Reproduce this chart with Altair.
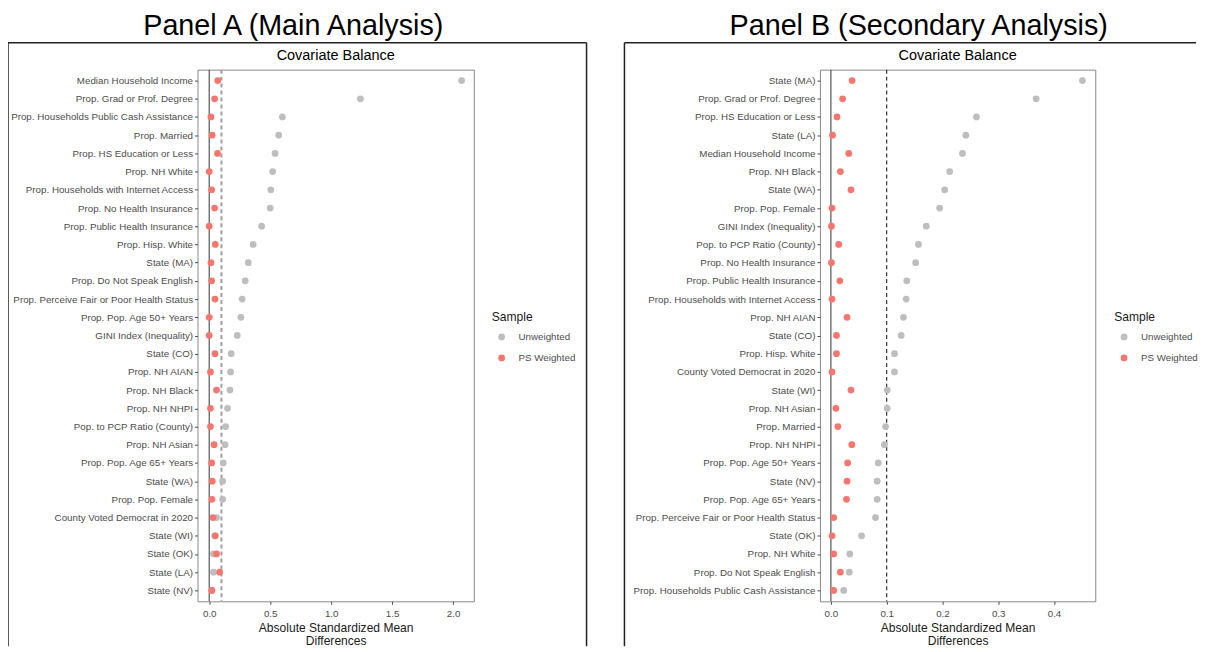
import altair as alt
import pandas as pd

FONT = "Liberation Sans"

# ---------------- Panel A data ----------------
vars_a = ["Median Household Income", "Prop. Grad or Prof. Degree",
          "Prop. Households Public Cash Assistance", "Prop. Married",
          "Prop. HS Education or Less", "Prop. NH White",
          "Prop. Households with Internet Access", "Prop. No Health Insurance",
          "Prop. Public Health Insurance", "Prop. Hisp. White", "State (MA)",
          "Prop. Do Not Speak English", "Prop. Perceive Fair or Poor Health Status",
          "Prop. Pop. Age 50+ Years", "GINI Index (Inequality)", "State (CO)",
          "Prop. NH AIAN", "Prop. NH Black", "Prop. NH NHPI",
          "Pop. to PCP Ratio (County)", "Prop. NH Asian", "Prop. Pop. Age 65+ Years",
          "State (WA)", "Prop. Pop. Female", "County Voted Democrat in 2020",
          "State (WI)", "State (OK)", "State (LA)", "State (NV)"]
unw_a = [2.07, 1.24, 0.60, 0.57, 0.54, 0.52, 0.505, 0.50, 0.43, 0.36, 0.32, 0.295,
         0.27, 0.26, 0.23, 0.18, 0.175, 0.17, 0.15, 0.135, 0.13, 0.115, 0.11, 0.11,
         0.06, 0.045, 0.035, 0.035, 0.02]
ps_a = [0.07, 0.044, 0.014, 0.024, 0.068, 0.0, 0.02, 0.044, 0.0, 0.05, 0.014, 0.02,
        0.047, 0.0, 0.0, 0.047, 0.01, 0.06, 0.01, 0.01, 0.04, 0.02, 0.025, 0.022,
        0.03, 0.05, 0.06, 0.085, 0.022]
ticks_a = [0.0, 0.5, 1.0, 1.5, 2.0]

# ---------------- Panel B data ----------------
vars_b = ["State (MA)", "Prop. Grad or Prof. Degree", "Prop. HS Education or Less",
          "State (LA)", "Median Household Income", "Prop. NH Black", "State (WA)",
          "Prop. Pop. Female", "GINI Index (Inequality)", "Pop. to PCP Ratio (County)",
          "Prop. No Health Insurance", "Prop. Public Health Insurance",
          "Prop. Households with Internet Access", "Prop. NH AIAN", "State (CO)",
          "Prop. Hisp. White", "County Voted Democrat in 2020", "State (WI)",
          "Prop. NH Asian", "Prop. Married", "Prop. NH NHPI", "Prop. Pop. Age 50+ Years",
          "State (NV)", "Prop. Pop. Age 65+ Years",
          "Prop. Perceive Fair or Poor Health Status", "State (OK)", "Prop. NH White",
          "Prop. Do Not Speak English", "Prop. Households Public Cash Assistance"]
unw_b = [0.451, 0.368, 0.261, 0.242, 0.236, 0.213, 0.204, 0.195, 0.171, 0.157, 0.152,
         0.136, 0.135, 0.130, 0.126, 0.114, 0.114, 0.101, 0.101, 0.098, 0.096, 0.085,
         0.083, 0.083, 0.080, 0.055, 0.034, 0.033, 0.023]
ps_b = [0.038, 0.021, 0.011, 0.003, 0.032, 0.017, 0.036, 0.002, 0.001, 0.014, 0.001,
        0.016, 0.002, 0.029, 0.010, 0.010, 0.002, 0.036, 0.009, 0.0125, 0.0375, 0.030,
        0.029, 0.028, 0.005, 0.002, 0.005, 0.017, 0.005]
ticks_b = [0.0, 0.1, 0.2, 0.3, 0.4]

samples = ["Unweighted", "PS Weighted"]
sample_colors = ["#BEBEBE", "#F8766D"]
x_title = ["Absolute Standardized Mean", "Differences"]
threshold = 0.1


def one(d):
    return pd.DataFrame([d])


def panel(vars_, unw, ps, domain, ticks, width, dash_color, dash_width,
          big_title, big_x, sub_x, box_left, box_right, draw_right):
    n = len(vars_)
    df = pd.DataFrame({
        "Variable": vars_ + vars_,
        "ASMD": unw + ps,
        "Sample": [samples[0]] * n + [samples[1]] * n,
        "ord": [0] * n + [1] * n,
    })
    xenc = alt.X("ASMD:Q", title=x_title,
                 scale=alt.Scale(domain=domain, nice=False, zero=False),
                 axis=alt.Axis(values=ticks, format=".1f", grid=False, domain=False,
                               labelPadding=4, titlePadding=3))
    yenc = alt.Y("Variable:N", sort=vars_, title=None,
                 scale=alt.Scale(type="point", padding=0.6),
                 axis=alt.Axis(grid=False, domain=False, labelLimit=400))
    pts = alt.Chart(df).mark_circle(size=46, opacity=1).encode(
        x=xenc, y=yenc,
        color=alt.Color("Sample:N", sort=samples,
                        scale=alt.Scale(domain=samples, range=sample_colors),
                        legend=alt.Legend(orient="none", legendX=295, legendY=242,
                                          title="Sample")),
        order=alt.Order("ord:Q"),
    )
    zero = alt.Chart(one({"ASMD": 0.0})).mark_rule(
        color="#555555", strokeWidth=1.2).encode(x=alt.X("ASMD:Q", title=x_title))
    dash = alt.Chart(one({"ASMD": threshold})).mark_rule(
        color=dash_color, strokeWidth=dash_width, strokeDash=[4, 3]).encode(
        x=alt.X("ASMD:Q", title=x_title))
    top = -27
    bottom = 578
    box = [
        alt.Chart(one({"k": 1})).mark_rule(color="#222222", strokeWidth=1.5).encode(
            x=alt.value(box_left), x2=alt.value(box_right), y=alt.value(top)),
        alt.Chart(one({"k": 1})).mark_rule(color="#222222", strokeWidth=1.5).encode(
            x=alt.value(box_left), y=alt.value(top), y2=alt.value(bottom)),
    ]
    if draw_right:
        box.append(alt.Chart(one({"k": 1})).mark_rule(color="#222222", strokeWidth=1.5).encode(
            x=alt.value(box_right), y=alt.value(top), y2=alt.value(bottom)))
    t_big = alt.Chart(one({"t": big_title})).mark_text(
        font=FONT, fontSize=28.8, color="#000000", align="center", baseline="middle").encode(
        text="t:N", x=alt.value(big_x), y=alt.value(-44))
    t_sub = alt.Chart(one({"t": "Covariate Balance"})).mark_text(
        font=FONT, fontSize=14.5, color="#000000", align="center", baseline="middle").encode(
        text="t:N", x=alt.value(sub_x), y=alt.value(-14))
    return alt.layer(*box, zero, dash, pts, t_big, t_sub).properties(width=width, height=533)


pa = panel(vars_a, unw_a, ps_a, [-0.096, 2.17], ticks_a, 277, "#a0a0a0", 2.0,
           "Panel A (Main Analysis)", 96, 138.5, -190, 390, True)
pb = panel(vars_b, unw_b, ps_b, [-0.0196, 0.474], ticks_b, 276, "#333333", 1.2,
           "Panel B (Secondary Analysis)", 99, 138, -196, 377, False)

chart = alt.hconcat(pa, pb, spacing=34).resolve_scale(
    x="independent", y="independent", color="independent"
).resolve_legend(color="independent").properties(
    padding={"left": -2, "top": 2, "right": 0, "bottom": 0}
).configure(
    font=FONT
).configure_view(
    stroke="#8a8a8a", strokeWidth=1
).configure_axis(
    labelFont=FONT, labelFontSize=9.8, labelColor="#4d4d4d",
    tickColor="#4d4d4d", tickSize=3, tickWidth=1, labelPadding=2,
    titleFont=FONT, titleFontSize=12.1, titleColor="#1a1a1a",
    titleFontWeight="normal", titlePadding=2, titleLineHeight=13.5
).configure_legend(
    titleFont=FONT, titleFontSize=12.1, titleColor="#1a1a1a", titleFontWeight="normal",
    labelFont=FONT, labelFontSize=9.8, labelColor="#4d4d4d",
    symbolType="circle", symbolSize=46, symbolStrokeWidth=0,
    titlePadding=9, rowPadding=10, labelOffset=12, padding=0, symbolOffset=5
)

chart.save("out.html", embed_options={"renderer": "svg", "actions": False})
